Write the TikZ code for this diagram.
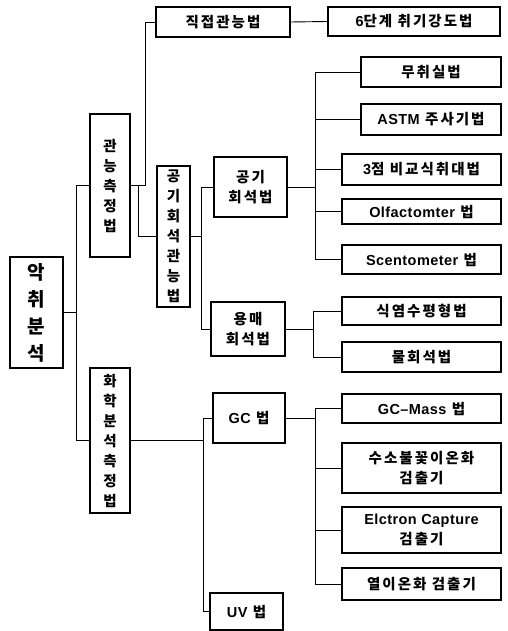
\documentclass[tikz,border=0pt]{standalone}
\usepackage{fontspec}
\setmainfont{Noto Sans CJK KR}[LetterSpace=14]
\newfontfamily\lat{Liberation Sans}[LetterSpace=3]
\begin{document}
\begin{tikzpicture}[x=1pt,y=-1pt,
  box/.style={draw, line width=1.1pt, inner sep=0pt, align=center,
    font=\bfseries\fontsize{14.5}{19.5}\selectfont},
  vbox/.style={box, font=\bfseries\fontsize{14.5}{20}\selectfont},
  rootbox/.style={box, font=\bfseries\fontsize{19}{27}\selectfont},
  conn/.style={line width=0.9pt}]
\useasboundingbox (0,0) rectangle (508,631);
% main nodes
\node[rootbox, minimum width=53pt, minimum height=111pt] (root) at (36.5,312.5) {악\\취\\분\\석};
\node[vbox, minimum width=40pt, minimum height=143pt] (gw) at (110,185.5) {관\\능\\측\\정\\법};
\node[vbox, minimum width=40pt, minimum height=145pt] (hw) at (110,440.5) {화\\학\\분\\석\\측\\정\\법};
\node[box, minimum width=134pt, minimum height=30pt] (direct) at (223,22) {직접관능법};
\node[box, minimum width=172pt, minimum height=29pt] (six) at (414,21.5) {{\lat 6}단계 취기강도법};
\node[vbox, minimum width=33pt, minimum height=141pt] (ag) at (173.5,236.5) {공\\기\\회\\석\\관\\능\\법};
\node[box, minimum width=73pt, minimum height=60pt] (air) at (250.5,187) {공기\\회석법};
\node[box, minimum width=74pt, minimum height=54pt] (solv) at (248,329) {용매\\회석법};
\node[box, minimum width=72pt, minimum height=50pt] (gc) at (249,418) {{\lat GC} 법};
\node[box, minimum width=73pt, minimum height=37pt] (uv) at (246.5,611.5) {{\lat UV} 법};
% leaves
\node[box, minimum width=140pt, minimum height=30pt] (m1) at (431,72) {무취실법};
\node[box, minimum width=140pt, minimum height=31pt] (m2) at (431,119.5) {{\lat ASTM} 주사기법};
\node[box, minimum width=159pt, minimum height=31pt] (m3) at (421.5,169.5) {{\lat 3}점 비교식취대법};
\node[box, minimum width=159pt, minimum height=25pt] (m4) at (421.5,211.5) {{\lat Olfactomter} 법};
\node[box, minimum width=159pt, minimum height=29pt] (m5) at (421.5,259.5) {{\lat Scentometer} 법};
\node[box, minimum width=159pt, minimum height=28pt] (s1) at (421.5,311) {식염수평형법};
\node[box, minimum width=159pt, minimum height=30pt] (s2) at (421.5,357) {물회석법};
\node[box, minimum width=159pt, minimum height=29pt] (g1) at (421.5,408.5) {{\lat GC–Mass} 법};
\node[box, minimum width=159pt, minimum height=50pt] (g2) at (421.5,468) {수소불꽃이온화\\검출기};
\node[box, minimum width=159pt, minimum height=46pt] (g3) at (421.5,530) {{\lat Elctron Capture}\\검출기};
\node[box, minimum width=159pt, minimum height=32pt] (g4) at (421.5,584) {열이온화 검출기};
% connectors
\draw[conn] (gw.west) -- ++(-13,0) coordinate (t1) |- (hw.west);
\draw[conn] (root.east) -- (root.east -| t1);
\draw[conn] (gw.east) -- ++(15,0) |- (direct.west);
\draw[conn] (gw.east) ++(8,0) coordinate (t2) |- (ag.west);
\draw[conn] (direct.east) -- (six.west);
\draw[conn] (ag.east) -- ++(11,0) coordinate (b2);
\draw[conn] (b2) |- (air.west);
\draw[conn] (b2) |- (solv.west);
\draw[conn] (air.east) -- ++(28,0) coordinate (b3);
\foreach \n in {m1,m2,m3,m4,m5} \draw[conn] (b3) |- (\n.west);
\draw[conn] (solv.east) -- ++(28,0) coordinate (b4);
\foreach \n in {s1,s2} \draw[conn] (b4) |- (\n.west);
\draw[conn] (hw.east) -- ++(73,0) coordinate (b5);
\draw[conn] (b5) |- (gc.west);
\draw[conn] (b5) |- (uv.west);
\draw[conn] (gc.east) -- ++(30,0) coordinate (b6);
\foreach \n in {g1,g2,g3,g4} \draw[conn] (b6) |- (\n.west);
\end{tikzpicture}
\end{document}
